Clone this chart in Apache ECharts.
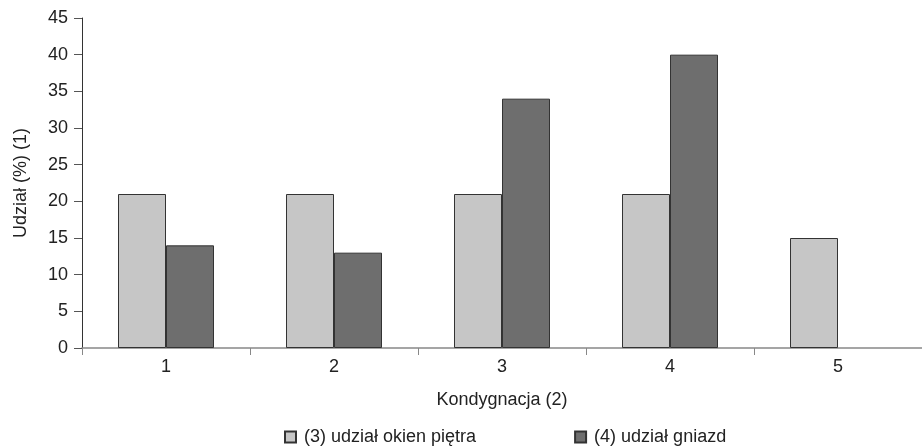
<!DOCTYPE html>
<html><head><meta charset="utf-8">
<script src="https://cdn.jsdelivr.net/npm/echarts@6/dist/echarts.min.js"></script>
<style>html,body{margin:0;padding:0;background:#fff}#c{width:922px;height:446px}</style>
</head><body><div id="c"></div>
<script>
const categories = ['1','2','3','4','5'];
const okien = [21, 21, 21, 21, 15];
const gniazd = [14, 13, 34, 40, null];
const seriesNames = ['(3) udział okien piętra', '(4) udział gniazd'];
const font = 'Liberation Sans, Arial, sans-serif';
const chart = echarts.init(document.getElementById('c'));
chart.setOption({
  animation: false,
  grid: {left: 82, right: 0, top: 18, bottom: 98, containLabel: false},
  legend: {
    bottom: 0, left: 284, padding: 0, itemWidth: 11, itemHeight: 11, itemGap: 98,
    icon: 'rect',
    textStyle: {fontFamily: font, fontSize: 18, color: '#222', padding: [0, 0, 0, 3]},
    data: seriesNames
  },
  xAxis: {
    type: 'category', data: categories,
    name: 'Kondygnacja (2)', nameLocation: 'middle', nameGap: 43,
    nameTextStyle: {fontFamily: font, fontSize: 18, color: '#222'},
    axisLine: {lineStyle: {color: '#888', width: 1.5}},
    axisTick: {show: true, length: 7, lineStyle: {color: '#888'}},
    axisLabel: {fontFamily: font, fontSize: 18, color: '#222', margin: 10}
  },
  yAxis: {
    type: 'value', min: 0, max: 45, interval: 5,
    name: 'Udział (%) (1)', nameLocation: 'middle', nameGap: 52,
    nameTextStyle: {fontFamily: font, fontSize: 18, color: '#222'},
    axisLine: {show: true, lineStyle: {color: '#333', width: 1}},
    axisTick: {show: true, length: 8, lineStyle: {color: '#555'}},
    axisLabel: {fontFamily: font, fontSize: 18, color: '#222', margin: 14},
    splitLine: {show: false}
  },
  series: [
    {name: seriesNames[0], type: 'bar', data: okien, barWidth: 48, barGap: '0%',
     itemStyle: {color: '#c6c6c6', borderColor: '#333', borderWidth: 1}},
    {name: seriesNames[1], type: 'bar', data: gniazd, barWidth: 48, barGap: '0%',
     itemStyle: {color: '#6e6e6e', borderColor: '#333', borderWidth: 1}}
  ]
});
</script></body></html>
